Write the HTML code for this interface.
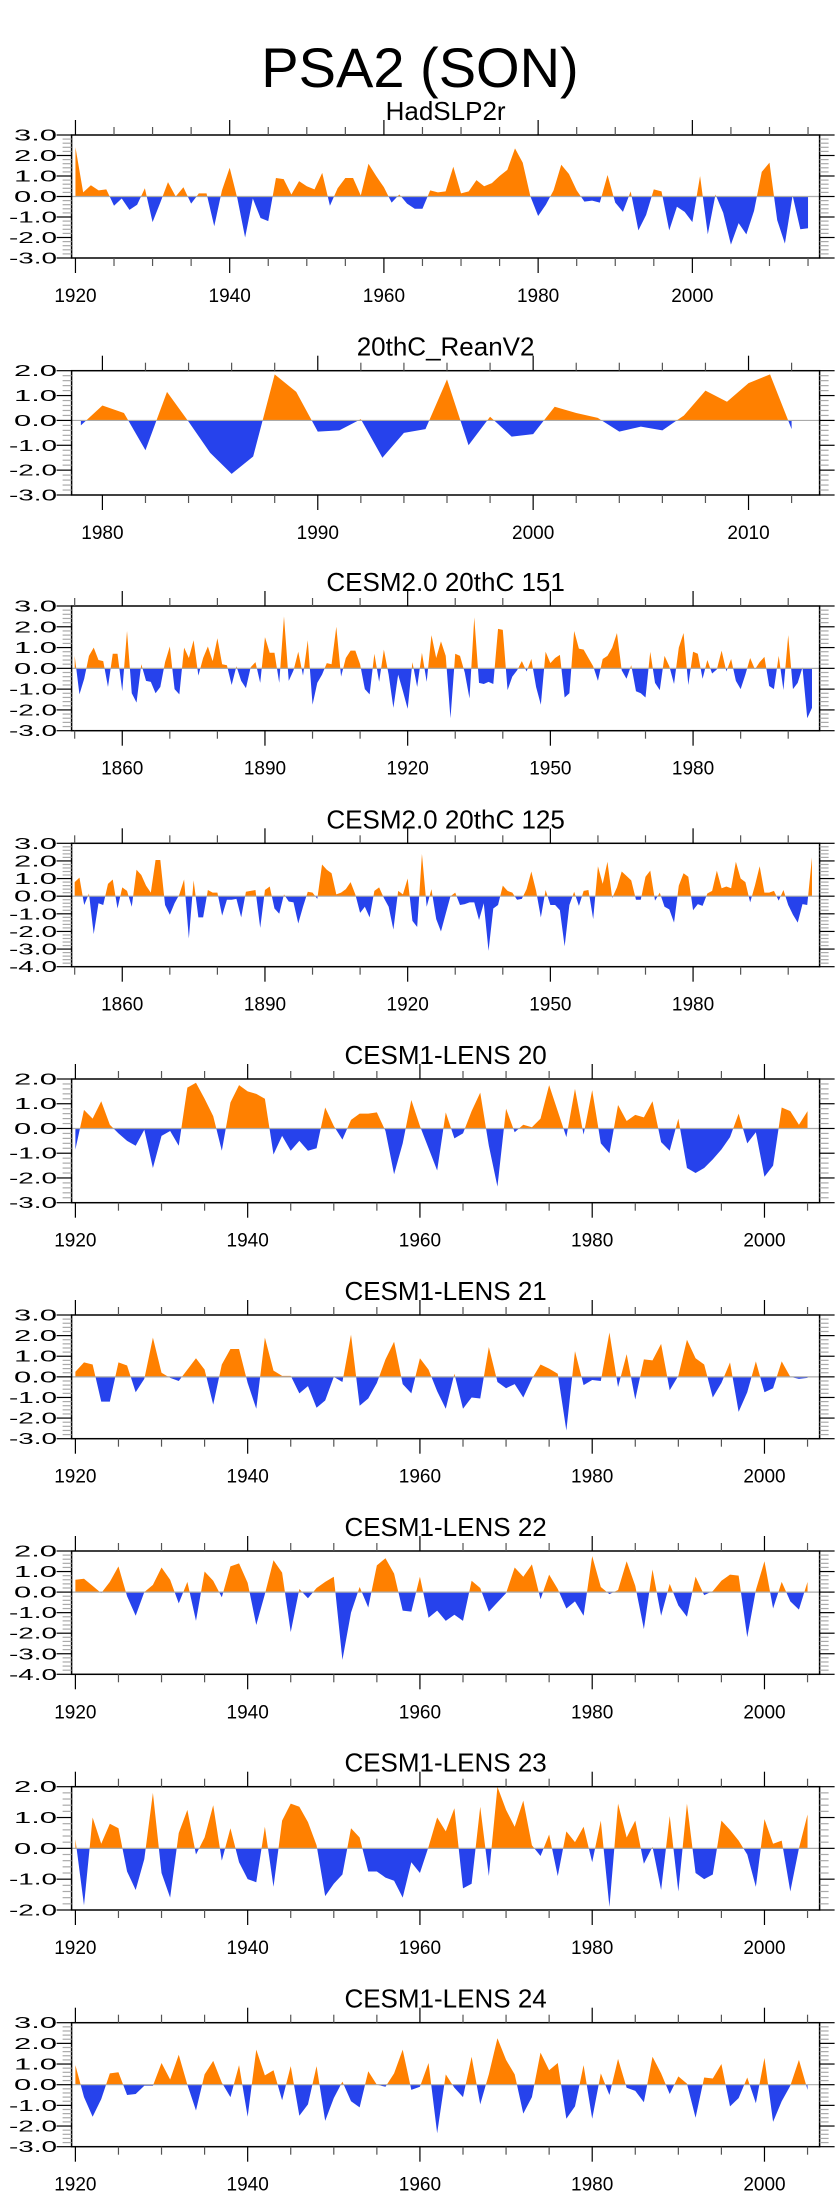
<!DOCTYPE html>
<html><head><meta charset="utf-8">
<style>
html,body{margin:0;padding:0;background:#fff;}
svg{display:block;font-family:"Liberation Sans",Arial,sans-serif;}
</style></head>
<body>
<svg id="fig" width="840" height="2200" viewBox="0 0 840 2200">
<text x="420" y="87" font-size="56" text-anchor="middle">PSA2 (SON)</text>
</svg>
<script>
// ---- data ----
const p1Title = "HadSLP2r";
const p1Start = 1920;
const p1Values = [2.4,0.2,0.55,0.3,0.35,-0.45,-0.1,-0.65,-0.4,0.4,-1.25,-0.3,0.7,0.0,0.45,-0.35,0.15,0.15,-1.45,0.3,1.4,-0.1,-2.0,-0.1,-1.05,-1.2,0.9,0.85,0.1,0.75,0.5,0.35,1.15,-0.45,0.4,0.9,0.9,0.05,1.6,1.0,0.45,-0.3,0.1,-0.35,-0.6,-0.6,0.3,0.2,0.25,1.45,0.15,0.25,0.8,0.5,0.65,1.0,1.3,2.35,1.65,0.0,-0.95,-0.4,0.3,1.55,1.1,0.3,-0.25,-0.2,-0.3,1.05,-0.3,-0.75,0.25,-1.65,-0.9,0.35,0.25,-1.65,-0.5,-0.75,-1.25,1.0,-1.85,0.1,-0.8,-2.35,-1.3,-1.85,-0.7,1.2,1.65,-1.15,-2.3,0.05,-1.6,-1.55];
const p1YTicks = ["3.0","2.0","1.0","0.0","-1.0","-2.0","-3.0"];
const p1XTicks = ["1920","1940","1960","1980","2000"];

const p2Title = "20thC_ReanV2";
const p2Start = 1979;
const p2Values = [-0.2,0.6,0.3,-1.2,1.15,-0.05,-1.3,-2.15,-1.45,1.85,1.15,-0.45,-0.4,0.05,-1.5,-0.5,-0.35,1.65,-1.0,0.15,-0.65,-0.55,0.55,0.3,0.1,-0.45,-0.25,-0.4,0.2,1.2,0.75,1.5,1.85,-0.35];
const p2YTicks = ["2.0","1.0","0.0","-1.0","-2.0","-3.0"];
const p2XTicks = ["1980","1990","2000","2010"];

const p3Title = "CESM2.0 20thC 151";
const p3Start = 1850;
const p3Values = [0.6,-1.25,-0.5,0.6,1.0,0.4,0.35,-0.9,0.7,0.7,-1.1,1.8,-1.2,-1.65,0.2,-0.6,-0.65,-1.2,-0.9,0.3,1.05,-1.0,-1.25,1.0,0.5,1.35,-0.35,0.5,1.05,0.35,1.45,0.2,0.15,-0.8,0.1,-0.6,-0.95,0.05,0.3,-0.7,1.5,0.75,0.75,-0.7,2.5,-0.6,-0.1,0.8,-0.35,1.35,-1.75,-0.7,-0.3,0.25,0.2,2.0,-0.4,0.5,0.85,0.85,0.2,-1.0,-1.25,0.7,-0.65,0.9,-0.3,-1.9,-0.3,-1.1,-1.95,0.3,-0.9,0.75,-0.65,1.6,0.5,1.3,0.6,-2.4,0.7,0.6,-0.2,-1.45,2.45,-0.7,-0.75,-0.65,-0.75,1.9,1.85,-1.05,-0.4,-0.1,0.35,-0.15,0.45,-0.9,-1.75,0.8,0.25,0.5,0.65,-1.4,-1.2,1.8,0.95,0.9,0.5,0.1,-0.6,0.45,0.6,1.0,1.7,-0.1,-0.5,0.15,-1.1,-1.2,-1.4,0.8,-0.7,-1.05,0.6,0.1,-0.75,1.0,1.7,-0.8,0.8,0.7,-0.5,0.4,-0.25,-0.05,0.85,-0.15,0.45,-0.6,-1.0,-0.3,0.5,-0.05,0.3,0.55,-0.85,-1.0,0.6,-1.05,1.6,-1.0,-0.7,0.05,-2.4,-1.9];
const p3YTicks = ["3.0","2.0","1.0","0.0","-1.0","-2.0","-3.0"];
const p3XTicks = ["1860","1890","1920","1950","1980"];

const p4Title = "CESM2.0 20thC 125";
const p4Start = 1850;
const p4Values = [0.8,1.05,-0.5,0.15,-2.15,-0.4,-0.5,0.7,0.95,-0.7,0.5,0.3,-0.6,1.5,1.2,0.6,0.2,2.05,2.05,-0.5,-1.05,-0.4,0.1,0.95,-2.4,0.9,-1.2,-1.2,0.35,0.2,0.2,-1.1,-0.2,-0.2,-0.15,-1.2,0.25,0.3,0.35,-1.8,0.35,0.55,-0.7,-1.0,0.1,-0.3,-0.35,-1.55,-0.6,0.25,0.2,-0.15,1.8,1.5,1.3,0.1,0.2,0.4,0.8,0.1,-0.95,-0.6,-1.2,0.3,0.5,-0.1,-0.6,-1.9,0.3,0.1,1.0,-1.4,-1.75,2.4,-0.6,0.4,-1.3,-2.0,-1.0,0.0,0.2,-0.5,-0.45,-0.35,-0.35,-1.35,-0.4,-3.1,-0.7,-0.5,0.6,0.3,0.2,-0.2,-0.15,0.4,1.4,0.3,-1.2,0.35,-0.5,-0.5,-0.8,-2.85,-0.5,0.25,-0.55,0.3,0.35,-1.3,1.7,0.7,1.95,-0.1,0.5,1.4,1.15,0.9,-0.2,-0.2,1.1,1.45,-0.25,0.2,-0.6,-0.75,-1.5,0.6,1.3,1.1,-0.8,-0.45,-0.55,0.15,0.3,1.45,0.45,0.55,0.45,1.95,1.0,0.8,-0.35,0.6,1.7,0.2,0.2,0.3,-0.25,0.35,-0.5,-1.05,-1.5,-0.45,-0.5,2.2];
const p4YTicks = ["3.0","2.0","1.0","0.0","-1.0","-2.0","-3.0","-4.0"];
const p4XTicks = ["1860","1890","1920","1950","1980"];

const p5Title = "CESM1-LENS 20";
const p5Start = 1920;
const p5Values = [-0.85,0.75,0.4,1.1,0.15,-0.2,-0.5,-0.7,-0.05,-1.6,-0.3,-0.1,-0.7,1.65,1.85,1.2,0.5,-0.9,1.05,1.75,1.5,1.4,1.2,-1.05,-0.3,-0.9,-0.5,-0.9,-0.8,0.85,0.1,-0.45,0.35,0.6,0.6,0.65,-0.1,-1.85,-0.6,1.15,0.1,-0.8,-1.7,0.65,-0.4,-0.2,0.7,1.45,-0.7,-2.35,0.8,-0.15,0.15,0.05,0.4,1.75,0.7,-0.35,1.6,-0.25,1.55,-0.6,-1.0,0.95,0.3,0.55,0.45,1.1,-0.55,-0.9,0.4,-1.6,-1.8,-1.6,-1.25,-0.85,-0.35,0.6,-0.6,-0.15,-1.95,-1.5,0.85,0.7,0.15,0.7];
const p5YTicks = ["2.0","1.0","0.0","-1.0","-2.0","-3.0"];
const p5XTicks = ["1920","1940","1960","1980","2000"];

const p6Title = "CESM1-LENS 21";
const p6Start = 1920;
const p6Values = [0.25,0.7,0.6,-1.2,-1.2,0.7,0.55,-0.75,-0.1,1.9,0.2,-0.05,-0.2,0.35,0.9,0.35,-1.35,0.6,1.35,1.35,-0.3,-1.55,1.9,0.3,0.05,0.05,-0.8,-0.45,-1.5,-1.15,0.0,-0.25,2.05,-1.4,-1.05,-0.3,0.85,1.7,-0.35,-0.8,0.9,0.35,-0.7,-1.55,0.15,-1.55,-1.0,-1.05,1.45,-0.25,-0.55,-0.35,-1.0,-0.1,0.6,0.4,0.15,-2.6,1.25,-0.4,-0.15,-0.2,2.15,-0.5,1.1,-1.1,0.85,0.8,1.6,-0.65,0.05,1.8,0.9,0.6,-1.0,-0.3,0.7,-1.7,-0.75,0.75,-0.75,-0.55,0.75,0.0,-0.1,-0.05];
const p6YTicks = ["3.0","2.0","1.0","0.0","-1.0","-2.0","-3.0"];
const p6XTicks = ["1920","1940","1960","1980","2000"];

const p7Title = "CESM1-LENS 22";
const p7Start = 1920;
const p7Values = [0.6,0.65,0.3,-0.05,0.5,1.25,-0.2,-1.15,0.0,0.35,1.2,0.6,-0.55,0.5,-1.4,1.0,0.55,-0.25,1.25,1.4,0.45,-1.6,-0.1,1.55,0.95,-1.95,0.15,-0.3,0.2,0.5,0.75,-3.3,-1.0,0.25,-0.75,1.3,1.65,0.9,-0.9,-0.95,0.75,-1.25,-0.9,-1.4,-1.1,-1.4,0.55,0.2,-0.95,-0.5,-0.05,1.2,0.75,1.35,-0.35,0.85,0.15,-0.8,-0.45,-1.15,1.75,0.25,-0.1,0.1,1.5,0.3,-1.8,1.1,-1.15,0.4,-0.65,-1.2,0.75,-0.15,0.05,0.55,0.85,0.8,-2.2,0.1,1.5,-0.8,0.5,-0.45,-0.85,0.5];
const p7YTicks = ["2.0","1.0","0.0","-1.0","-2.0","-3.0","-4.0"];
const p7XTicks = ["1920","1940","1960","1980","2000"];

const p8Title = "CESM1-LENS 23";
const p8Start = 1920;
const p8Values = [0.3,-1.85,1.0,0.15,0.8,0.65,-0.75,-1.35,-0.35,1.8,-0.8,-1.6,0.5,1.25,-0.2,0.35,1.4,-0.4,0.65,-0.45,-1.0,-1.1,0.7,-1.25,0.9,1.45,1.35,0.85,0.1,-1.55,-1.15,-0.85,0.65,0.35,-0.75,-0.75,-0.95,-1.05,-1.6,-0.45,-0.8,0.05,1.0,0.55,1.3,-1.3,-1.15,1.35,-0.9,2.0,1.25,0.7,1.55,0.1,-0.25,0.45,-0.9,0.55,0.2,0.7,-0.45,0.9,-1.9,1.45,0.35,0.9,-0.5,0.05,-1.35,1.05,-1.4,1.45,-0.8,-1.0,-0.85,0.9,0.6,0.25,-0.2,-1.25,0.95,0.15,0.25,-1.4,0.0,1.1];
const p8YTicks = ["2.0","1.0","0.0","-1.0","-2.0"];
const p8XTicks = ["1920","1940","1960","1980","2000"];

const p9Title = "CESM1-LENS 24";
const p9Start = 1920;
const p9Values = [0.95,-0.6,-1.55,-0.7,0.55,0.6,-0.5,-0.45,-0.05,-0.05,1.05,0.25,1.45,0.0,-1.25,0.5,1.15,0.1,-0.6,0.95,-1.55,1.7,0.45,0.7,-0.75,0.9,-1.5,-0.95,0.9,-1.75,-0.65,0.15,-0.8,-1.1,0.65,0.0,-0.1,0.55,1.7,-0.25,-0.1,1.05,-2.35,0.5,-0.15,-0.6,1.35,-0.95,0.5,2.25,1.2,0.5,-1.4,-0.6,1.55,0.7,1.05,-1.65,-1.05,0.95,-1.65,0.55,-0.5,1.25,-0.15,-0.3,-0.85,1.35,0.55,-0.45,0.4,0.05,-1.6,0.35,0.3,1.0,-1.05,-0.65,0.35,-0.9,1.3,-1.8,-0.8,-0.05,1.2,-0.25];
const p9YTicks = ["3.0","2.0","1.0","0.0","-1.0","-2.0","-3.0"];
const p9XTicks = ["1920","1940","1960","1980","2000"];

// ---- layout (not data) ----
const NS = "http://www.w3.org/2000/svg";
const svg = document.getElementById('fig');
const L = 71.6, R = 819.6;
const panels = [
 {id:1,title:p1Title,start:p1Start,vals:p1Values,yt:p1YTicks,xt:p1XTicks,top:135,bot:258,ymin:-3,ymax:3,xmin:1919.5,xmax:2016.5,major:20,minor:5,first:1920},
 {id:2,title:p2Title,start:p2Start,vals:p2Values,yt:p2YTicks,xt:p2XTicks,top:370.7,bot:495,ymin:-3,ymax:2,xmin:1978.57,xmax:2013.3,major:10,minor:2,first:1980},
 {id:3,title:p3Title,start:p3Start,vals:p3Values,yt:p3YTicks,xt:p3XTicks,top:606,bot:730.7,ymin:-3,ymax:3,xmin:1849.35,xmax:2006.6,major:30,minor:10,first:1860},
 {id:4,title:p4Title,start:p4Start,vals:p4Values,yt:p4YTicks,xt:p4XTicks,top:843.3,bot:966.7,ymin:-4,ymax:3,xmin:1849.35,xmax:2006.6,major:30,minor:10,first:1860},
 {id:5,title:p5Title,start:p5Start,vals:p5Values,yt:p5YTicks,xt:p5XTicks,top:1079,bot:1202.7,ymin:-3,ymax:2,xmin:1919.56,xmax:2006.4,major:20,minor:5,first:1920},
 {id:6,title:p6Title,start:p6Start,vals:p6Values,yt:p6YTicks,xt:p6XTicks,top:1315,bot:1438.7,ymin:-3,ymax:3,xmin:1919.56,xmax:2006.4,major:20,minor:5,first:1920},
 {id:7,title:p7Title,start:p7Start,vals:p7Values,yt:p7YTicks,xt:p7XTicks,top:1551,bot:1674.3,ymin:-4,ymax:2,xmin:1919.56,xmax:2006.4,major:20,minor:5,first:1920},
 {id:8,title:p8Title,start:p8Start,vals:p8Values,yt:p8YTicks,xt:p8XTicks,top:1786.7,bot:1910,ymin:-2,ymax:2,xmin:1919.56,xmax:2006.4,major:20,minor:5,first:1920},
 {id:9,title:p9Title,start:p9Start,vals:p9Values,yt:p9YTicks,xt:p9XTicks,top:2022.7,bot:2146.7,ymin:-3,ymax:3,xmin:1919.56,xmax:2006.4,major:20,minor:5,first:1920}
];
function mk(tag, attrs, parent){
  const e = document.createElementNS(NS, tag);
  for (const k in attrs) e.setAttribute(k, attrs[k]);
  (parent||svg).appendChild(e);
  return e;
}
panels.forEach(p => {
  const g = mk('g', {});
  
  
  const xs = yr => L + (yr - p.xmin) / (p.xmax - p.xmin) * (R - L);
  const ys = v => p.bot - (v - p.ymin) / (p.ymax - p.ymin) * (p.bot - p.top);
  const y0 = ys(0);
  const t = mk('text', {x:(L+R)/2, y:p.top-15, 'font-size':26, 'text-anchor':'middle'}, g);
  t.textContent = p.title;
  
  
  let pts = xs(p.start).toFixed(2) + ',' + y0.toFixed(2) + ' ';
  p.vals.forEach((v,i) => { pts += xs(p.start+i).toFixed(2) + ',' + ys(v).toFixed(2) + ' '; });
  pts += xs(p.start+p.vals.length-1).toFixed(2) + ',' + y0.toFixed(2);
  const cpA = mk('clipPath', {id:'ca'+p.id}, g);
  mk('rect', {x:L, y:p.top, width:R-L, height:y0-p.top}, cpA);
  const cpB = mk('clipPath', {id:'cb'+p.id}, g);
  mk('rect', {x:L, y:y0, width:R-L, height:p.bot-y0}, cpB);
  const pos = mk('polygon', {points:pts, fill:'#ff8000', 'clip-path':'url(#ca'+p.id+')'}, g);
  
  
  const neg = mk('polygon', {points:pts, fill:'#2642ec', 'clip-path':'url(#cb'+p.id+')'}, g);
  
  
  const zl = mk('line', {x1:L, x2:R, y1:y0, y2:y0, stroke:'#aaa', 'stroke-width':1.2}, g);
  
  
  const fr = mk('rect', {x:L, y:p.top, width:R-L, height:p.bot-p.top, fill:'none', stroke:'#000', 'stroke-width':1.5}, g);
  
  
  const y0yr = Math.ceil(p.xmin / p.minor) * p.minor;
  for (let yr = y0yr; yr <= p.xmax; yr += p.minor) {
    const isMaj = ((yr - p.first) % p.major) === 0;
    const len = isMaj ? 15 : 8;
    const x = xs(yr);
    mk('line', {x1:x, x2:x, y1:p.top, y2:p.top-len, stroke: isMaj?'#000':'#555', 'stroke-width':1.2}, g);
    mk('line', {x1:x, x2:x, y1:p.bot, y2:p.bot+len, stroke: isMaj?'#000':'#555', 'stroke-width':1.2}, g);
  }
  p.xt.forEach(lbl => {
    const tx = mk('text', {x:xs(+lbl), y:p.bot+44, 'font-size':19, 'text-anchor':'middle'}, g);
    tx.textContent = lbl;
    
    
  });
  for (let k = Math.round(p.ymin*5); k <= Math.round(p.ymax*5); k++) {
    const v = k/5, y = ys(v);
    const isMaj = (k % 5) === 0;
    const len = isMaj ? 15 : 9;
    mk('line', {x1:L, x2:L-len, y1:y, y2:y, stroke: isMaj?'#000':'#aaa', 'stroke-width':1.2}, g);
    mk('line', {x1:R, x2:R+len, y1:y, y2:y, stroke: isMaj?'#000':'#aaa', 'stroke-width':1.2}, g);
  }
  p.yt.forEach(lbl => {
    const ty = mk('text', {x:57, y:ys(+lbl)+5.5, 'font-size':15.5, 'text-anchor':'end', textLength: lbl[0]==='-'?48:43, lengthAdjust:'spacingAndGlyphs'}, g);
    ty.textContent = lbl;
    
    
  });
});
</script>
</body></html>
